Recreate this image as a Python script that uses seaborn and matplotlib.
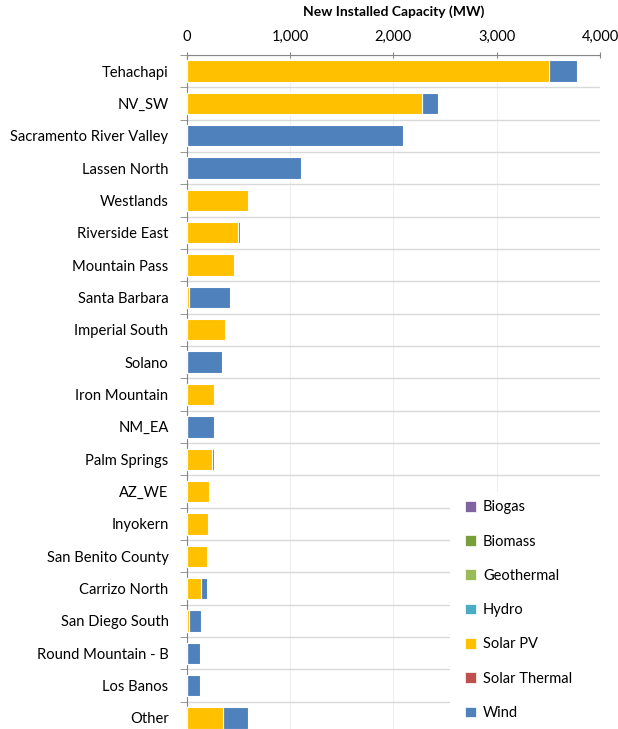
import pandas as pd
import matplotlib.pyplot as plt
import seaborn as sns
from matplotlib.patches import Patch, Rectangle
from matplotlib.ticker import FuncFormatter, FixedLocator

# Values (MW)
regions = ["Tehachapi", "NV_SW", "Sacramento River Valley", "Lassen North", "Westlands",
           "Riverside East", "Mountain Pass", "Santa Barbara", "Imperial South", "Solano",
           "Iron Mountain", "NM_EA", "Palm Springs", "AZ_WE", "Inyokern", "San Benito County",
           "Carrizo North", "San Diego South", "Round Mountain - B", "Los Banos", "Other"]
biogas = [0] * 21
biomass = [0] * 21
geothermal = [0] * 21
hydro = [0] * 21
solar_pv = [3503, 2277, 0, 0, 594, 500, 458, 26, 374, 0,
            268, 0, 245, 216, 210, 200, 142, 26, 0, 0, 355]
solar_thermal = [0] * 21
wind = [278, 155, 2090, 1110, 0, 13, 0, 393, 0, 345,
        0, 268, 16, 0, 0, 0, 52, 109, 126, 126, 242]

techs = ["Biogas", "Biomass", "Geothermal", "Hydro", "Solar PV", "Solar Thermal", "Wind"]
colors = ["#8064A2", "#77A03A", "#9BBB59", "#4BACC6", "#FFC000", "#C0504D", "#4F81BD"]

df = pd.DataFrame({"Region": regions, "Biogas": biogas, "Biomass": biomass,
                   "Geothermal": geothermal, "Hydro": hydro, "Solar PV": solar_pv,
                   "Solar Thermal": solar_thermal, "Wind": wind})
cum = df[techs].cumsum(axis=1)
cum["Region"] = df["Region"]

plt.rcParams["font.family"] = ["Lato", "DejaVu Sans"]
fig = plt.figure(figsize=(6.18, 7.29), dpi=100)
ax = fig.add_axes([0.302, -0.0069, 0.669, 0.9315])

# stacked bars: draw cumulative totals from the last series back to the first
for tech, col in zip(techs[::-1], colors[::-1]):
    if cum[tech].max() <= 0:
        continue
    sns.barplot(data=cum, x=tech, y="Region", order=regions, color=col, width=0.66,
                edgecolor="white", linewidth=0.8, saturation=1, ax=ax, zorder=3)

ax.set_xlim(0, 4000)
ax.set_ylim(20.5, -0.5)
ax.xaxis.tick_top()
ax.xaxis.set_label_position("top")
ax.set_xticks([0, 1000, 2000, 3000, 4000])
ax.xaxis.set_major_formatter(FuncFormatter(lambda v, p: f"{int(v):,}"))
ax.set_xlabel("New Installed Capacity (MW)", fontsize=10, fontweight="bold", labelpad=10)
ax.set_ylabel("")

ax.yaxis.set_minor_locator(FixedLocator([i - 0.5 for i in range(22)]))
ax.tick_params(axis="y", which="major", length=0, pad=13, labelsize=10.6)
ax.tick_params(axis="y", which="minor", length=5, color="#868686")
ax.tick_params(axis="x", which="major", length=4, direction="inout", color="#868686",
               labelsize=10.5, pad=6)

ax.grid(axis="y", which="minor", color="#d9d9d9", lw=1, zorder=0)
ax.grid(axis="x", which="major", color="#efefef", lw=0.8, zorder=0)
ax.grid(axis="y", which="major", visible=False)
ax.set_axisbelow(True)
for s in ["right", "bottom"]:
    ax.spines[s].set_visible(False)
for s in ["left", "top"]:
    ax.spines[s].set_color("#868686")

# white legend area covering the gridlines
fig.add_artist(Rectangle((450 / 618, 0), 1, 1 - 492 / 729, transform=fig.transFigure,
                         facecolor="white", edgecolor="none", zorder=5))

handles = [Patch(facecolor=c, edgecolor="white", lw=0.5) for c in colors]
leg = fig.legend(handles, techs, loc="center left", bbox_to_anchor=(0.712, 0.163),
                 frameon=False, fontsize=10.5, handlelength=0.75, handleheight=0.75,
                 handletextpad=0.5, labelspacing=1.39, borderpad=1.2)
leg.set_zorder(10)

fig.savefig("out.png", dpi=100)
